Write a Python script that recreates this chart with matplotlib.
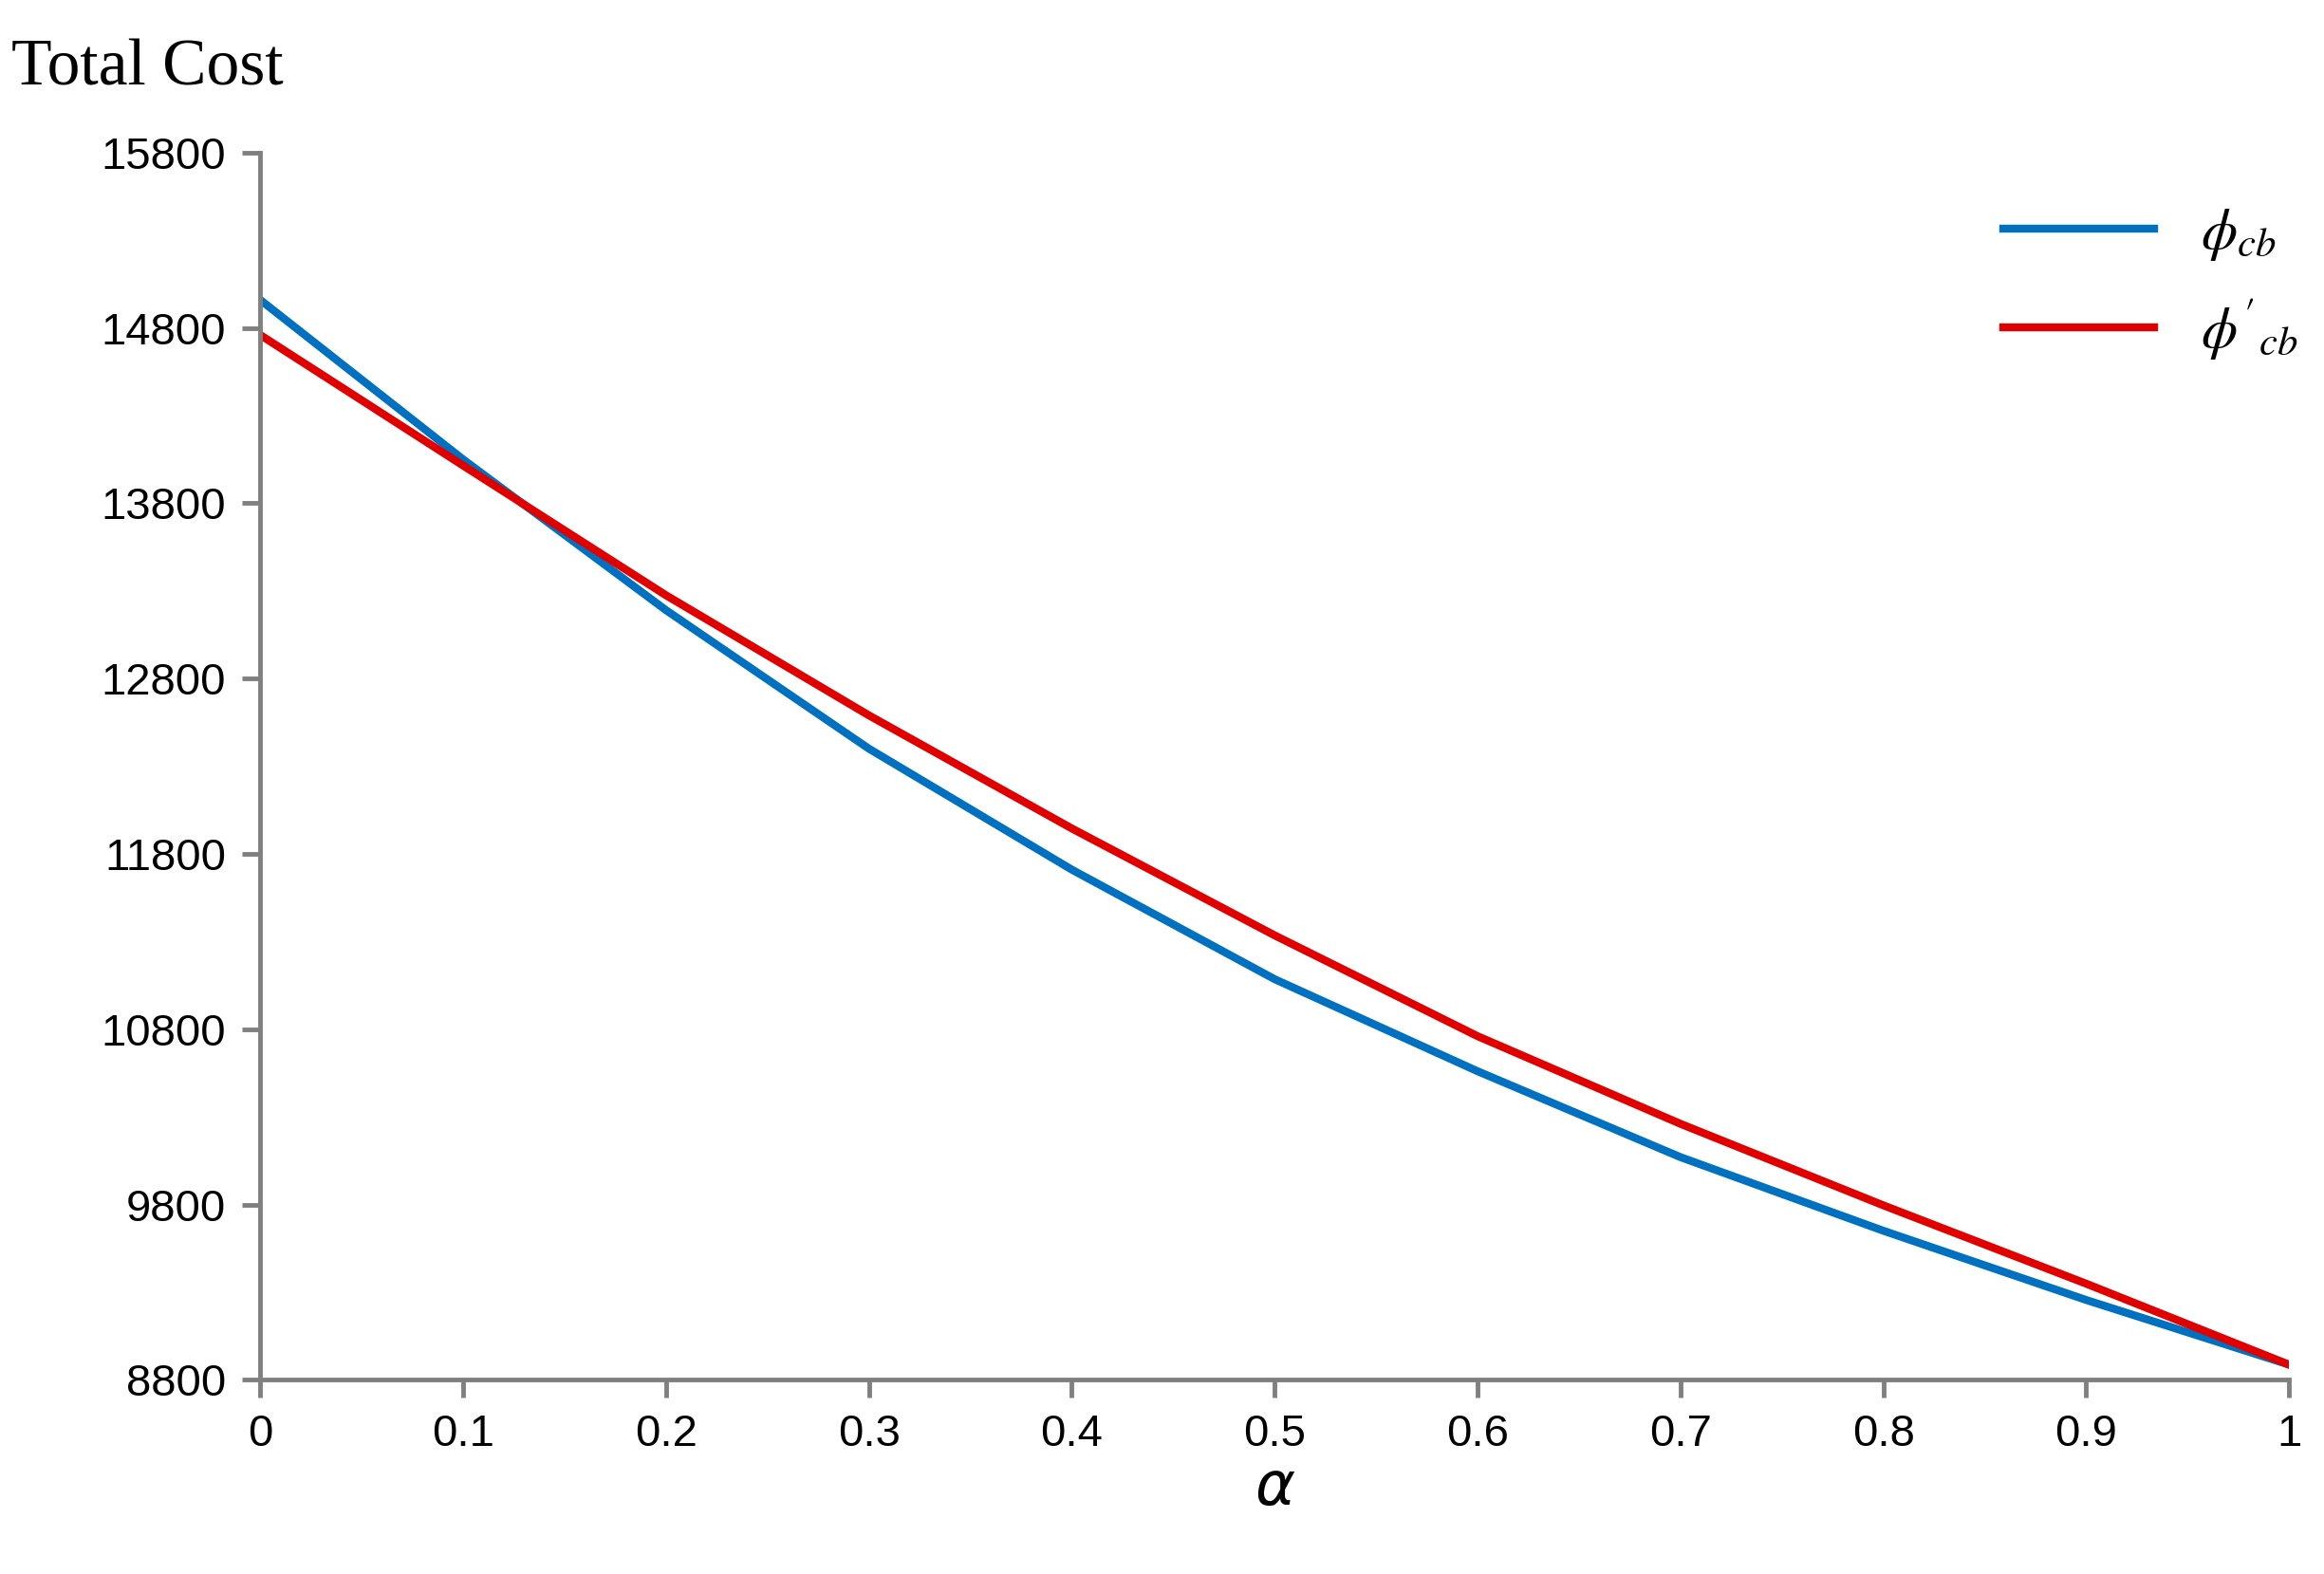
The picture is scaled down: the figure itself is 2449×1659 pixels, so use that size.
import matplotlib.pyplot as plt

# values
alpha = [0, 0.1, 0.2, 0.3, 0.4, 0.5, 0.6, 0.7, 0.8, 0.9, 1]
phi_cb = [14960, 14050, 13190, 12400, 11710, 11085, 10560, 10070, 9650, 9255, 8886]
phi_cb_prime = [14760, 14015, 13275, 12590, 11945, 11335, 10760, 10260, 9795, 9348, 8886]
y_ticks = [8800, 9800, 10800, 11800, 12800, 13800, 14800, 15800]

fig = plt.figure(figsize=(24.49, 16.59), dpi=100)
ax = fig.add_axes([0.112, 0.1234, 0.873, 0.7796])

ax.plot(alpha, phi_cb, color="#0070C0", lw=6, label=r"$\phi_{cb}$")
ax.plot(alpha, phi_cb_prime, color="#E00000", lw=6, label=r"$\phi'_{cb}$")

ax.set_xlim(0, 1)
ax.set_ylim(8800, 15800)
ax.set_xticks(alpha)
ax.set_xticklabels(["0"] + [f"{a:g}" for a in alpha[1:-1]] + ["1"])
ax.set_yticks(y_ticks)

for s in ["top", "right"]:
    ax.spines[s].set_visible(False)
for s in ["left", "bottom"]:
    ax.spines[s].set_color("#808080")
    ax.spines[s].set_linewidth(3.5)
ax.tick_params(axis="both", colors="#808080", width=3.5, length=14,
               labelcolor="black", labelsize=34, pad=12)
for lab in ax.get_xticklabels() + ax.get_yticklabels():
    lab.set_family("Liberation Sans")

ax.set_xlabel(r"$\alpha$", fontsize=46, labelpad=2)
fig.text(0.005, 0.975, "Total Cost", family="Liberation Serif", fontsize=50,
         va="top", ha="left")

plt.rcParams["mathtext.fontset"] = "stix"
leg = ax.legend(loc="upper right", bbox_to_anchor=(1.03, 1.0), frameon=False,
                fontsize=44, handlelength=2.6, labelspacing=0.6)

fig.savefig("out.png")
